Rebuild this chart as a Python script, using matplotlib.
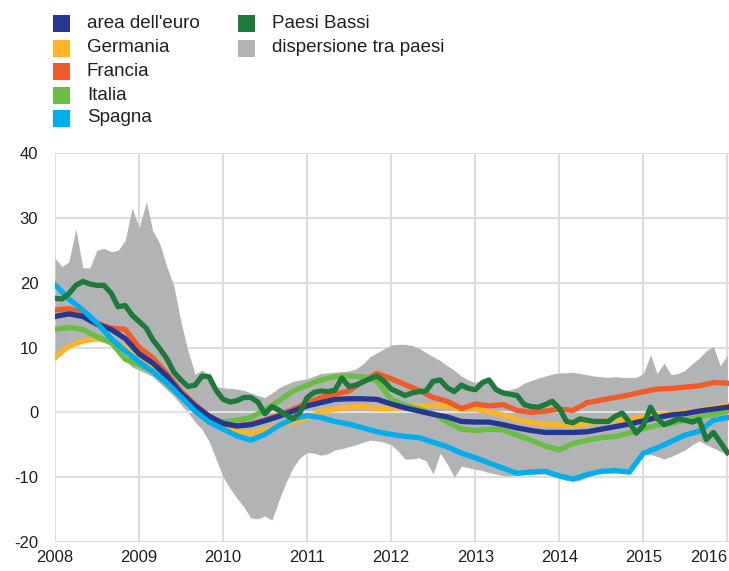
import numpy as np
import pandas as pd
import matplotlib
matplotlib.use("Agg")
import matplotlib.pyplot as plt
from matplotlib.patches import Rectangle

plt.rcParams['font.family'] = ['Liberation Sans', 'DejaVu Sans']
plt.rcParams['axes.unicode_minus'] = False

# bimonthly series (Jan 2008 - Jan 2016)
dates2 = pd.date_range('2008-01-01', periods=49, freq='2MS')
# monthly series (Jan 2008 - Jan 2016)
dates1 = pd.date_range('2008-01-01', periods=97, freq='MS')

euro = [14.8, 15.2, 14.8, 13.6, 12.8, 11.4, 9.0, 7.6, 5.6, 3.0,
        1.0, -0.6, -1.7, -2.1, -1.9, -1.3, -0.6, 0.2, 1.0, 1.5,
        2.0, 2.1, 2.1, 2.0, 1.3, 0.7, 0.2, -0.3, -0.7, -1.4,
        -1.5, -1.5, -1.9, -2.4, -2.8, -3.1, -3.1, -3.1, -3.0, -2.6,
        -2.2, -1.8, -1.3, -0.8, -0.4, -0.2, 0.2, 0.5, 0.8]
germania = [8.5, 10.2, 11.0, 11.4, 11.0, 10.0, 8.3, 7.0, 5.3, 2.8,
            0.6, -1.1, -2.3, -2.9, -3.2, -2.7, -2.0, -1.5, -0.9, 0.1,
            0.5, 0.8, 0.9, 0.6, 0.6, 0.8, 1.0, 1.1, 0.9, 0.5,
            0.5, 0.1, -0.4, -1.1, -1.6, -1.8, -1.9, -2.1, -1.7, -1.4,
            -1.1, -1.1, -0.7, -0.4, -0.2, 0.0, 0.2, 0.7, 1.1]
francia = [15.8, 16.0, 15.3, 13.8, 13.0, 12.8, 10.0, 8.4, 6.0, 3.3,
           1.2, -0.6, -1.8, -2.1, -1.8, -1.2, -0.4, 0.5, 1.4, 2.3,
           2.8, 3.3, 4.8, 6.0, 5.2, 4.3, 3.4, 2.3, 1.7, 0.6,
           1.3, 1.0, 1.2, 0.3, 0.0, 0.2, 0.5, 0.3, 1.5, 1.9,
           2.3, 2.7, 3.2, 3.6, 3.7, 3.9, 4.1, 4.6, 4.5]
italia = [12.8, 13.1, 12.8, 11.7, 10.8, 8.2, 7.3, 6.3, 4.4, 2.4,
          0.4, -1.0, -1.5, -1.2, -0.8, 0.4, 1.8, 3.3, 4.2, 5.0,
          5.5, 5.6, 5.5, 4.8, 2.0, 1.1, 0.5, -0.2, -1.5, -2.6,
          -2.8, -2.6, -2.7, -3.5, -4.3, -5.2, -5.8, -4.8, -4.3, -3.9,
          -3.7, -3.2, -2.5, -2.0, -1.7, -1.2, -0.7, -0.3, 0.2]
spagna = [19.7, 17.5, 15.8, 13.8, 11.4, 9.5, 7.8, 6.3, 4.6, 2.4,
          0.2, -1.5, -2.6, -3.6, -4.3, -3.4, -2.0, -1.0, -0.5, -0.8,
          -1.4, -1.8, -2.4, -3.0, -3.4, -3.7, -3.9, -4.6, -5.3, -6.3,
          -7.0, -7.8, -8.6, -9.4, -9.2, -9.1, -9.8, -10.3, -9.6, -9.1,
          -9.0, -9.2, -6.3, -5.5, -4.5, -3.5, -2.9, -1.2, -0.8]

paesi_bassi = [17.6, 17.5, 18.3, 19.6, 20.2, 19.8, 19.6, 19.6, 18.4, 16.3,
               16.5, 15.0, 14.0, 13.0, 11.2, 9.8, 8.3, 6.2, 5.0, 4.0,
               4.2, 5.6, 5.5, 3.4, 2.0, 1.6, 1.8, 2.3, 2.3, 1.6,
               -0.2, 0.9, 0.3, -0.4, -1.0, 0.0, 2.3, 3.1, 3.3, 3.2,
               3.4, 5.3, 4.0, 4.2, 4.7, 5.2, 5.6, 4.8, 3.6, 3.1,
               2.6, 3.0, 3.2, 3.3, 4.8, 5.0, 3.8, 3.2, 4.2, 3.7,
               3.5, 4.6, 5.0, 3.5, 3.0, 2.8, 2.6, 1.2, 0.9, 0.8,
               1.2, 1.7, 0.6, -1.4, -1.6, -1.0, -1.2, -1.4, -1.4, -1.4,
               -0.6, -0.1, -1.5, -3.2, -2.0, 0.8, -0.9, -1.9, -1.5, -1.0,
               -1.2, -1.5, -1.1, -4.2, -3.1, -4.6, -6.2]

disp_max = [23.8, 22.5, 23.2, 28.3, 22.3, 22.3, 25.0, 25.3, 24.8, 25.0,
            26.5, 31.5, 28.5, 32.5, 28.0, 26.0, 22.5, 19.5, 14.0, 9.5,
            5.9, 6.5, 5.8, 4.0, 3.8, 3.7, 3.6, 3.4, 3.0, 2.6,
            2.3, 3.0, 3.8, 4.3, 4.8, 5.0, 5.2, 5.6, 6.0, 6.1,
            6.2, 6.3, 6.4, 6.7, 7.5, 8.6, 9.2, 9.8, 10.4, 10.5,
            10.5, 10.3, 9.9, 9.2, 8.6, 8.0, 7.2, 6.5, 5.6, 5.0,
            4.6, 5.0, 5.2, 4.0, 3.4, 3.5, 3.8, 4.5, 4.9, 5.3,
            5.6, 5.9, 6.1, 6.1, 6.2, 6.0, 5.8, 5.6, 5.5, 5.4,
            5.5, 5.4, 5.4, 5.4, 6.0, 8.9, 6.0, 7.6, 5.8, 6.0,
            6.5, 7.5, 8.4, 9.5, 10.2, 7.2, 8.8]
disp_min = [8.0, 9.0, 10.0, 10.6, 10.8, 11.0, 11.0, 10.8, 10.3, 9.3,
            8.0, 7.0, 6.5, 6.0, 5.5, 4.5, 3.5, 2.5, 1.2, 0.0,
            -1.5, -2.6, -4.5, -7.2, -10.0, -11.8, -13.2, -14.6, -16.3, -16.4,
            -16.0, -16.6, -13.5, -10.8, -8.5, -7.0, -6.2, -6.3, -6.6, -6.4,
            -5.8, -5.6, -5.3, -5.0, -4.6, -4.3, -4.4, -4.6, -5.0, -6.0,
            -7.2, -7.2, -7.0, -7.5, -9.5, -6.3, -8.0, -10.0, -8.3, -8.5,
            -8.8, -9.0, -9.3, -9.5, -9.8, -9.8, -9.7, -9.6, -9.5, -9.5,
            -9.5, -9.8, -10.2, -10.5, -10.6, -10.5, -10.0, -9.5, -9.3, -9.3,
            -9.3, -9.4, -9.5, -8.0, -6.5, -6.5, -6.8, -7.2, -6.8, -6.3,
            -5.8, -5.0, -4.4, -5.0, -5.5, -6.0, -6.6]

labels = ["area dell'euro", "Germania", "Francia", "Italia", "Spagna",
          "Paesi Bassi", "dispersione tra paesi"]
colors = ['#27378F', '#FDB42B', '#F15A29', '#6ABD45', '#00AEEF',
          '#1D7A3A', '#B2B3B5']

fig = plt.figure(figsize=(7.29, 5.71), dpi=100)
ax = fig.add_axes([0.0754, 0.0508, 0.9246, 0.681])

ax.fill_between(dates1, disp_min, disp_max, color=colors[6], lw=0, zorder=1)
ax.axhline(0, color='#E2E2E2', lw=1.6, zorder=1.5)

lw = 3.8
ax.plot(dates2, germania, color=colors[1], lw=lw, zorder=3)
ax.plot(dates2, francia, color=colors[2], lw=lw, zorder=3)
ax.plot(dates2, italia, color=colors[3], lw=lw, zorder=3)
ax.plot(dates2, euro, color=colors[0], lw=lw, zorder=4)
ax.plot(dates2, spagna, color=colors[4], lw=lw, zorder=4)
ax.plot(dates1, paesi_bassi, color=colors[5], lw=lw, zorder=5)

years = pd.to_datetime([f'{y}-01-01' for y in range(2008, 2017)])
ax.set_xlim(pd.Timestamp('2008-01-01'), pd.Timestamp('2016-01-08'))
ax.set_xticks(years)
ax.set_xticklabels([str(y) for y in range(2008, 2017)])
ax.set_ylim(-20, 40)
ax.set_yticks(range(-20, 41, 10))

ax.grid(True, color='#DCDDDE', lw=1.4, zorder=0)
ax.set_axisbelow(True)
for s in ax.spines.values():
    s.set_visible(False)
ax.tick_params(length=0, labelsize=12, colors='#231F20')
ax.tick_params(axis='y', pad=12)
ax.tick_params(axis='x', pad=6)
ax.get_xticklabels()[-1].set_horizontalalignment('right')

# legend: two columns of square swatches
W, H = 729.0, 571.0
rows1 = [23, 48, 71, 95, 118]
rows2 = [23, 48]
entries = [(53, 87, r) for r in rows1] + [(238, 272, r) for r in rows2]
for (bx, tx, ry), lab, col in zip(entries, labels, colors):
    fig.add_artist(Rectangle((bx / W, 1 - (ry + 8.5) / H), 17 / W, 17 / H,
                             transform=fig.transFigure, color=col, lw=0))
    fig.text(tx / W, 1 - ry / H, lab, fontsize=13.5, va='center', ha='left',
             color='#231F20')

fig.savefig('out.png', dpi=100)
